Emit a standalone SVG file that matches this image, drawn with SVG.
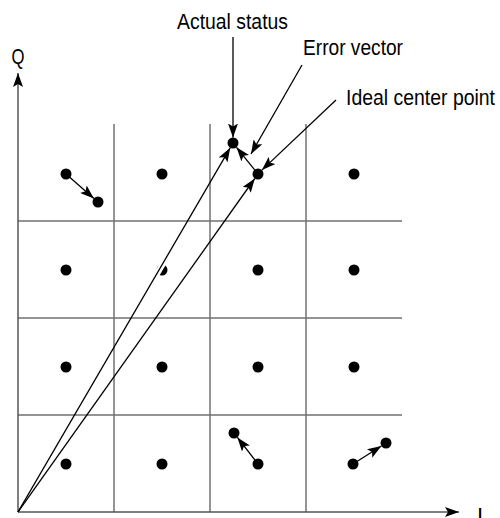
<svg xmlns="http://www.w3.org/2000/svg" width="500" height="518" viewBox="0 0 500 518">
<style>
.grid{stroke:#707070;stroke-width:1.5;fill:none}
.axis{stroke:#555;stroke-width:1.5;fill:none}
.vec{stroke:#000;stroke-width:1.3;fill:none;marker-end:url(#ah)}
.halo{stroke:#fff;stroke-width:6;fill:none}
.dot{fill:#000}
.lbl{font-family:"Liberation Sans",Arial,sans-serif;font-size:22px;fill:#000}
</style>
<defs>
<marker id="ah" markerWidth="16" markerHeight="10" refX="14" refY="5" orient="auto" markerUnits="userSpaceOnUse">
<path d="M0,0 L14,5 L0,10 L3,5 Z" fill="#000"/>
</marker>
</defs>
<g id="grid">
<line class="grid" x1="114" y1="124" x2="114" y2="512"/>
<line class="grid" x1="210" y1="124" x2="210" y2="512"/>
<line class="grid" x1="306" y1="124" x2="306" y2="512"/>
<line class="grid" x1="18" y1="221" x2="402" y2="221"/>
<line class="grid" x1="18" y1="318" x2="402" y2="318"/>
<line class="grid" x1="18" y1="415" x2="402" y2="415"/>
</g>
<g id="axes">
<line class="axis" x1="18" y1="512" x2="18" y2="73" marker-end="url(#ah)"/>
<line class="axis" x1="18" y1="512" x2="459" y2="512" marker-end="url(#ah)"/>
<text class="lbl" x="18" y="64" text-anchor="middle" textLength="13" lengthAdjust="spacingAndGlyphs">Q</text>
<text class="lbl" x="477" y="523">I</text>
</g>
<g id="dots">
<circle class="dot" cx="66" cy="174" r="5.5"/>
<circle class="dot" cx="98" cy="202" r="5.5"/>
<circle class="dot" cx="162" cy="174" r="5.5"/>
<circle class="dot" cx="233" cy="143" r="5.5"/>
<circle class="dot" cx="258" cy="174" r="5.5"/>
<circle class="dot" cx="354" cy="174" r="5.5"/>
<circle class="dot" cx="66" cy="270" r="5.5"/>
<circle class="dot" cx="162" cy="270" r="5.5"/>
<circle class="dot" cx="258" cy="270" r="5.5"/>
<circle class="dot" cx="354" cy="270" r="5.5"/>
<circle class="dot" cx="66" cy="367" r="5.5"/>
<circle class="dot" cx="162" cy="367" r="5.5"/>
<circle class="dot" cx="258" cy="367" r="5.5"/>
<circle class="dot" cx="354" cy="367" r="5.5"/>
<circle class="dot" cx="66" cy="464" r="5.5"/>
<circle class="dot" cx="162" cy="464" r="5.5"/>
<circle class="dot" cx="234" cy="433" r="5.5"/>
<circle class="dot" cx="258" cy="464" r="5.5"/>
<circle class="dot" cx="353" cy="464" r="5.5"/>
<circle class="dot" cx="386" cy="443" r="5.5"/>
</g>
<g id="connectors">
<line class="halo" x1="140" y1="303" x2="175" y2="243"/>
<line class="vec" x1="18" y1="512" x2="230.2" y2="147.8"/>
<line class="vec" x1="18" y1="512" x2="254.8" y2="178.5"/>
<line class="vec" x1="258" y1="174" x2="236.5" y2="147.3"/>
<line class="vec" x1="66" y1="174" x2="93.9" y2="198.4"/>
<line class="vec" x1="258" y1="464" x2="237.4" y2="437.4"/>
<line class="vec" x1="353" y1="464" x2="381.4" y2="446"/>
<line class="vec" x1="233" y1="37" x2="233" y2="137.5"/>
<line class="vec" x1="302" y1="65" x2="251" y2="154"/>
<line class="vec" x1="336" y1="100" x2="261.9" y2="170.1"/>
</g>
<g id="labels">
<text class="lbl" x="232.5" y="29" text-anchor="middle" textLength="111" lengthAdjust="spacingAndGlyphs">Actual status</text>
<text class="lbl" x="303" y="55" textLength="100" lengthAdjust="spacingAndGlyphs">Error vector</text>
<text class="lbl" x="346" y="105" textLength="149" lengthAdjust="spacingAndGlyphs">Ideal center point</text>
</g>
</svg>
